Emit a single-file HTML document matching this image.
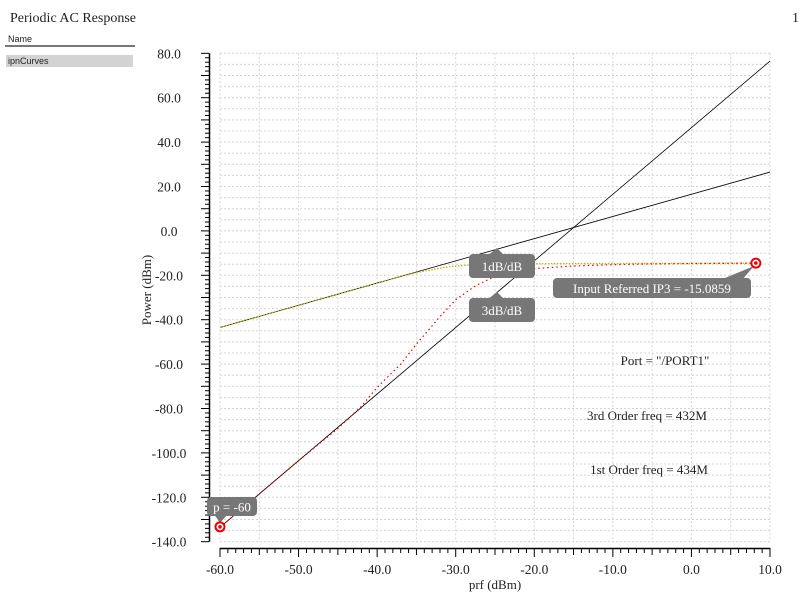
<!DOCTYPE html>
<html><head><meta charset="utf-8"><style>
body{margin:0;background:#fff;width:800px;height:600px;overflow:hidden;font-family:"Liberation Serif",serif}
</style></head><body>
<svg id="chart" width="800" height="600" xmlns="http://www.w3.org/2000/svg">
<text x="10" y="22" font-size="14" fill="#222">Periodic AC Response</text>
<text x="792" y="22" font-size="14" fill="#222">1</text>
<text x="8" y="42" font-family="Liberation Sans, sans-serif" font-size="9" fill="#222">Name</text>
<rect x="5" y="45" width="130" height="2" fill="#777"/>
<rect x="6" y="55" width="127" height="12" fill="#d3d3d3"/>
<text x="8" y="64" font-family="Liberation Sans, sans-serif" font-size="9" fill="#222">ipnCurves</text>
<g id="grid"></g>
<g id="axes"></g>
<g id="series"></g>
<g id="ann"></g>
<text transform="translate(151,290) rotate(-90)" text-anchor="middle" font-size="13" fill="#222">Power (dBm)</text>
<text x="495" y="589" text-anchor="middle" font-size="13" fill="#222">prf (dBm)</text>
<text x="665" y="365" text-anchor="middle" font-size="13" fill="#222">Port = "/PORT1"</text>
<text x="647" y="420" text-anchor="middle" font-size="13" fill="#222">3rd Order freq = 432M</text>
<text x="649" y="474" text-anchor="middle" font-size="13" fill="#222">1st Order freq = 434M</text>
</svg>
<script>
const xVals=[-60,-50,-45,-42,-40,-37,-35,-32,-30,-28,-27.3,-25,-22,-20,-15,-10,-5,0,5,8.2];
const thirdOrder=[-133.5,-103.5,-89,-79,-70.5,-60,-51,-38.6,-31,-26,-24.4,-20.5,-18,-17,-15.8,-15.2,-14.9,-14.7,-14.6,-14.5];
const fundamental=[-43.5,-33.5,-28.5,-25.5,-23.5,-20.5,-18.8,-16.8,-15.8,-15.3,-15.2,-14.9,-14.8,-14.8,-14.7,-14.7,-14.6,-14.6,-14.5,-14.5];
const lineX=[-60,10];
const line1Y=[-43.5,26.5];
const line3Y=[-133.5,76.5];
const xTicks=[-60,-50,-40,-30,-20,-10,0,10];
const yTicks=[80,60,40,20,0,-20,-40,-60,-80,-100,-120,-140];
const markerPts=[[-60,-133.3],[8.2,-14.5]];
const NS="http://www.w3.org/2000/svg";
const X=v=>220+(v+60)*550/70;
const Y=v=>53.3+(80-v)*488.4/220;
function mk(p,t,a){const e=document.createElementNS(NS,t);for(const k in a)e.setAttribute(k,a[k]);p.appendChild(e);return e;}
const grid=document.getElementById('grid'),axes=document.getElementById('axes'),ser=document.getElementById('series'),ann=document.getElementById('ann');
for(let v=-60;v<=10;v+=5){const l=mk(grid,'line',{x1:X(v),x2:X(v),y1:Y(80),y2:Y(-140),stroke:'#d4d4d4','stroke-dasharray':'2,2'});

}
for(let v=80;v>=-140;v-=5){const l=mk(grid,'line',{x1:X(-60),x2:X(10),y1:Y(v),y2:Y(v),stroke:'#d4d4d4','stroke-dasharray':'2,2'});

}
mk(axes,'line',{x1:209.5,x2:209.5,y1:Y(80),y2:Y(-140),stroke:'#000','stroke-width':1.5});
mk(axes,'line',{x1:X(-60),x2:X(10),y1:548.5,y2:548.5,stroke:'#000','stroke-width':1.5});
for(let v=80;v>=-140;v-=2){const maj=v%10==0;mk(axes,'line',{x1:maj?201:205,x2:209,y1:Y(v),y2:Y(v),stroke:'#000'});}
for(let v=-60;v<=10;v+=1){const maj=v%10==0,mid=v%5==0;mk(axes,'line',{x1:X(v),x2:X(v),y1:548,y2:maj?557:(mid?555:553),stroke:'#000'});}
yTicks.forEach(v=>{const t=mk(axes,'text',{x:169,y:Y(v)+5,'text-anchor':'middle','font-size':13.5,fill:'#222'});t.textContent=v.toFixed(1);

});
xTicks.forEach(v=>{const t=mk(axes,'text',{x:X(v),y:574,'text-anchor':'middle','font-size':13.5,fill:'#222'});t.textContent=v.toFixed(1);

});
const l1=mk(ser,'line',{x1:X(lineX[0]),y1:Y(line1Y[0]),x2:X(lineX[1]),y2:Y(line1Y[1]),stroke:'#000','stroke-width':0.8});


const l3=mk(ser,'line',{x1:X(lineX[0]),y1:Y(line3Y[0]),x2:X(lineX[1]),y2:Y(line3Y[1]),stroke:'#000','stroke-width':0.8});


const pf=mk(ser,'polyline',{points:xVals.map((x,i)=>X(x)+','+Y(fundamental[i])).join(' '),fill:'none',stroke:'#b8b800','stroke-width':1.2,'stroke-dasharray':'1.5,1.5'});


const p3=mk(ser,'polyline',{points:xVals.map((x,i)=>X(x)+','+Y(thirdOrder[i])).join(' '),fill:'none',stroke:'#e00','stroke-width':1.2,'stroke-dasharray':'1.5,3'});


function label(x,y,w,h,tri,txt,name){
 const g=mk(ann,'g',{});
 
 
 mk(g,'polygon',{points:tri,fill:'#777'});
 mk(g,'rect',{x:x,y:y,width:w,height:h,rx:4,fill:'#777'});
 const t=mk(g,'text',{x:x+w/2,y:y+h/2+5,'text-anchor':'middle','font-size':13,fill:'#fff'});t.textContent=txt;}
label(469,254,66,24,'487,256 497,248 505,256','1dB/dB','label-1db');
label(469,298,66,24,'487,300 497,292 505,300','3dB/dB','label-3db');
label(553,278,198,20,`720,280 ${X(8.2)-2},${Y(-14.5)+3} 742,280`,'Input Referred IP3 = -15.0859','label-ip3');
label(207,497,50,19,`214,514 ${X(-60)},${Y(-133.3)-4} 228,514`,'p = -60','label-start');
markerPts.forEach(p=>{const c=mk(ann,'circle',{cx:X(p[0]),cy:Y(p[1]),r:4.5,fill:'#fff',stroke:'#e00','stroke-width':2});


mk(ann,'circle',{cx:X(p[0]),cy:Y(p[1]),r:1.8,fill:'#e00'});});
</script>
</body></html>
